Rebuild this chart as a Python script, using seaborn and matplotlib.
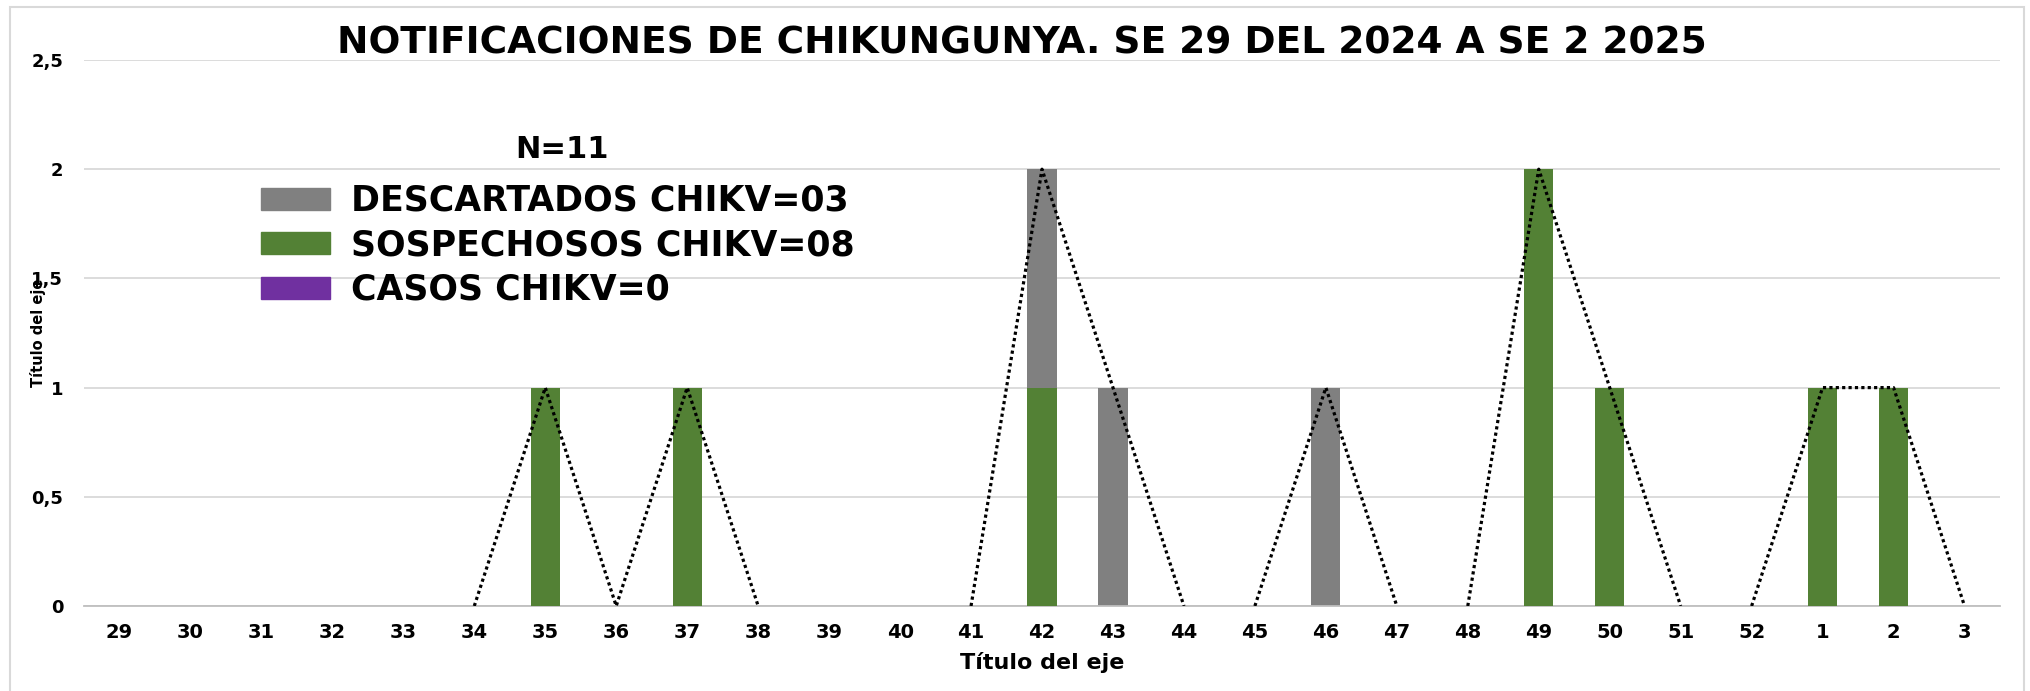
import numpy as np
import pandas as pd
import matplotlib
matplotlib.use("Agg")
import matplotlib.pyplot as plt
import matplotlib.patches as mpatches
import seaborn as sns

# ---------------- data ----------------
weeks = ["29", "30", "31", "32", "33", "34", "35", "36", "37", "38", "39", "40", "41",
         "42", "43", "44", "45", "46", "47", "48", "49", "50", "51", "52", "1", "2", "3"]
sospechosos = [0, 0, 0, 0, 0, 0, 1, 0, 1, 0, 0, 0, 0, 1, 0, 0, 0, 0, 0, 0, 2, 1, 0, 0, 1, 1, 0]
descartados = [0, 0, 0, 0, 0, 0, 0, 0, 0, 0, 0, 0, 0, 1, 1, 0, 0, 1, 0, 0, 0, 0, 0, 0, 0, 0, 0]
casos = [0] * 27
legend_labels = ["DESCARTADOS CHIKV=03", "SOSPECHOSOS CHIKV=08", "CASOS CHIKV=0"]
y_ticks = [0, 0.5, 1, 1.5, 2, 2.5]
y_tick_labels = ["0", "0,5", "1", "1,5", "2", "2,5"]
title = "NOTIFICACIONES DE CHIKUNGUNYA. SE 29 DEL 2024 A SE 2 2025"
n_text = "N=11"
axis_title = "Título del eje"

GRAY = "#808080"
GREEN = "#538135"
PURPLE = "#7030A0"

sns.set_style("white")
plt.rcParams["font.family"] = ["DejaVu Sans"]
plt.rcParams["text.color"] = "black"
plt.rcParams["axes.labelcolor"] = "black"
plt.rcParams["xtick.color"] = "black"
plt.rcParams["ytick.color"] = "black"

pos = np.arange(len(weeks))
total = np.array(sospechosos) + np.array(descartados) + np.array(casos)
df = pd.DataFrame({"pos": pos, "total": total, "sosp": sospechosos,
                   "casos": casos})

# line segments: skip stretches where both neighbours are zero
seg_rows = []
seg_id = 0
for i in range(len(pos) - 1):
    if max(total[i], total[i + 1]) > 0:
        seg_rows.append((seg_id, pos[i], total[i]))
        seg_rows.append((seg_id, pos[i + 1], total[i + 1]))
        if i + 2 < len(pos) and max(total[i + 1], total[i + 2]) == 0:
            seg_id += 1
    else:
        seg_id += 1
line_df = pd.DataFrame(seg_rows, columns=["seg", "pos", "total"]).drop_duplicates()

W, H = 2030, 691
fig = plt.figure(figsize=(W / 100, H / 100), dpi=100)
ax = fig.add_axes([84 / W, 1 - 606 / H, (2000 - 84) / W, (606 - 60) / H])

bw = 0.41
sns.barplot(data=df, x="pos", y="total", native_scale=True, color=GRAY,
            saturation=1, width=bw, ax=ax, edgecolor="none", linewidth=0, zorder=2)
sns.barplot(data=df, x="pos", y="sosp", native_scale=True, color=GREEN,
            saturation=1, width=bw, ax=ax, edgecolor="none", linewidth=0, zorder=3)
sns.barplot(data=df, x="pos", y="casos", native_scale=True, color=PURPLE,
            saturation=1, width=bw, ax=ax, edgecolor="none", linewidth=0, zorder=3)
sns.lineplot(data=line_df, x="pos", y="total", units="seg", estimator=None,
             color="black", linewidth=2.3, linestyle=(0, (1, 1)), ax=ax, zorder=4,
             sort=False)

ax.set_xlim(-0.5, len(weeks) - 0.5)
ax.set_ylim(0, 2.5)
ax.set_yticks(y_ticks)
ax.set_yticklabels(y_tick_labels, fontsize=13, fontweight="bold")
ax.set_xticks(pos)
ax.set_xticklabels(weeks, fontsize=14, fontweight="bold")
ax.set_xticks(np.arange(-0.5, len(weeks), 1), minor=True)
ax.tick_params(axis="x", which="major", length=0, pad=12)
ax.tick_params(axis="x", which="minor", length=5, width=1.3, color="#BFBFBF")
ax.tick_params(axis="y", length=0, pad=15)
ax.yaxis.grid(True, color="#D9D9D9", linewidth=1.3)
ax.xaxis.grid(False)
ax.set_axisbelow(True)
for s in ["left", "right", "top"]:
    ax.spines[s].set_visible(False)
ax.spines["bottom"].set_color("#BFBFBF")
ax.spines["bottom"].set_linewidth(1.3)

ax.set_xlabel(axis_title, fontsize=16, fontweight="bold")
ax.xaxis.set_label_coords(0.5, -0.085)
ax.set_ylabel(axis_title, fontsize=10.5, fontweight="bold")
ax.yaxis.set_label_coords(-0.020, 0.5)

fig.text(1022 / W, 1 - 43 / H, title, ha="center", va="center",
         fontsize=27, fontweight="bold")
fig.text(562 / W, 1 - 150 / H, n_text, ha="center", va="center",
         fontsize=22, fontweight="bold")

handles = [mpatches.Patch(color=c) for c in [GRAY, GREEN, PURPLE]]
fig.legend(handles, legend_labels, loc="upper left",
           bbox_to_anchor=(261 / W, 1 - 184 / H), frameon=False,
           prop={"size": 25, "weight": "bold"}, borderpad=0, borderaxespad=0,
           handlelength=2.0, handleheight=0.6, handletextpad=0.58,
           labelspacing=0.3)

fig.patches.append(mpatches.Rectangle((10 / W, -0.01), (2024 - 10) / W, 1 - 7 / H + 0.01,
                                      transform=fig.transFigure, fill=False,
                                      edgecolor="#D9D9D9", linewidth=1.5))

fig.savefig("out.png", dpi=100)
